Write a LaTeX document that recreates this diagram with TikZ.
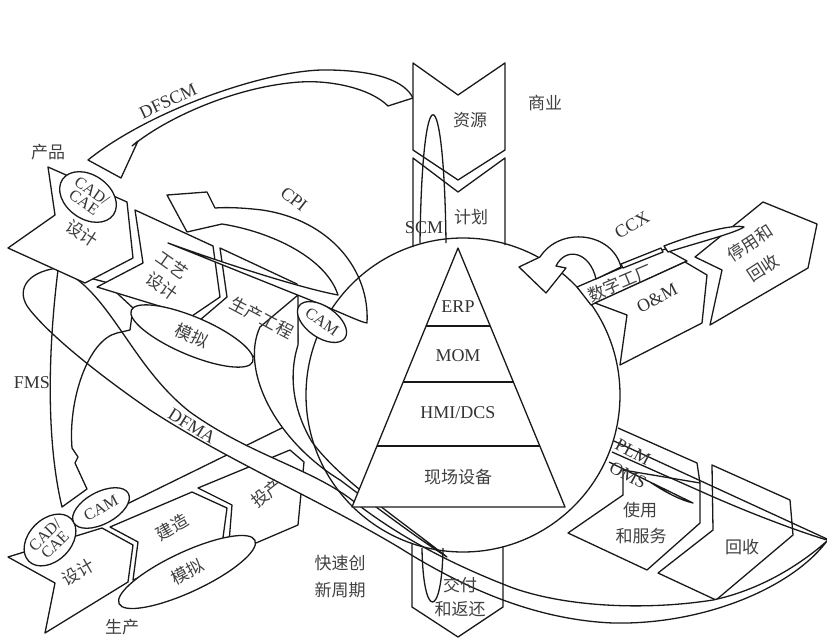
\documentclass[tikz,border=0pt]{standalone}
\usepackage{fontspec}
\setmainfont{Liberation Serif}
\newfontfamily\cjk{Noto Sans CJK SC}
\usetikzlibrary{shapes.geometric,calc}

\begin{document}
\begin{tikzpicture}[x=1pt, y=-1pt,
  outline/.style={draw=black!90, line width=1.3pt, line join=round},
  blk/.style={outline, fill=white},
  ell/.style={ellipse, draw=black!90, fill=white, line width=1.3pt, inner sep=0pt},
  lat/.style={font=\fontsize{18}{20}\selectfont, text=black!80, inner sep=0pt},
  zh/.style={font=\fontsize{17}{22}\selectfont\cjk, text=black!75, align=center, inner sep=0pt},
  elltxt/.style={font=\fontsize{16}{14}\selectfont, text=black!80, align=center, inner sep=0pt}
]
  \useasboundingbox (0,0) rectangle (827,639);

  % lower chain (production)
  \path[blk] (8,557) -- (102,528) -- (133,545) -- (128,582) -- (45,633) -- (55,583) -- cycle;
  \path[blk] (110,527) -- (192,492) -- (227,508) -- (222,545) -- (133,580) -- (138,542) -- cycle;
  \path[blk] (198,488) -- (290,450) -- (304,462) -- (298,525) -- (228,555) -- (232,505) -- cycle;
  \coordinate (stripA) at (127,504);
  \coordinate (stripB) at (290,424);
  \draw[outline] (stripA) -- (stripB);

  % lower right blocks
  \path[blk] (623,470) -- (623,495) -- (568,533) -- (647,570) -- (700,523) -- (700,483) -- cycle;
  \path[blk] (712,465) -- (790,500) -- (793,535) -- (716,600) -- (658,573) -- (713,530) -- cycle;

  % DFMA swoosh
  \path[blk] (827,541) .. controls (790,590) and (700,625) .. (613,623)
    .. controls (540,620) and (470,592) .. (400,548)
    .. controls (320,500) and (230,462) .. (150,410)
    .. controls (95,372) and (50,335) .. (30,310)
    .. controls (15,292) and (25,272) .. (58,268)
    .. controls (110,290) and (130,365) .. (190,412)
    .. controls (250,455) and (310,468) .. (352,500)
    .. controls (390,530) and (440,560) .. (513,588)
    .. controls (570,608) and (650,610) .. (713,600)
    .. controls (760,590) and (800,565) .. (827,541) -- cycle;

  % FMS swoosh
  \draw[outline] (58,270) .. controls (48,350) and (46,440) .. (62,507) -- (87,489) -- (75,463) -- (78,457) -- (72,448)
    .. controls (68,400) and (88,340) .. (117,333) -- (130,330) -- (133,308) -- (105,282) -- cycle;

  % lower ellipses
  \node[ell, rotate=45, minimum width=60pt, minimum height=42pt] (cadL) at (50,540) {};
  \node[ell, rotate=28, minimum width=62pt, minimum height=32pt] (camL) at (101,508) {};
  \node[ell, rotate=25, minimum width=150pt, minimum height=40pt] (simL) at (187,572) {};

  % upper chain (product)
  \path[blk] (48,167) -- (127,202) -- (133,258) -- (85,283) -- (8,248) -- (55,215) -- cycle;
  \path[blk] (135,210) -- (213,246) -- (220,297) -- (192,316) -- (97,287) -- (143,263) -- cycle;
  \path[blk] (220,248) -- (297,284) -- (298,343) -- (262,362) -- (200,320) -- (227,297) -- cycle;

  % crescent from CAM
  \path[blk] (298,295) -- (260,327) .. controls (240,370) and (275,440) .. (340,480)
    .. controls (380,510) and (420,540) .. (447,557)
    .. controls (400,520) and (340,480) .. (312,442)
    .. controls (290,405) and (290,370) .. (298,345) -- cycle;

  % CPI loop
  \path[blk] (168,243) -- (310,300) .. controls (340,312) and (360,322) .. (367,323)
    .. controls (370,270) and (330,220) .. (262,210) .. controls (245,208) and (228,207) .. (215,208)
    -- (207,192) -- (167,195) -- (187,232) -- (222,224)
    .. controls (272,232) and (326,258) .. (338,295)
    .. controls (300,288) and (220,262) .. (168,243) -- cycle;

  % DFSCM arrow
  \path[blk] (88,160) .. controls (150,110) and (270,68) .. (330,70) .. controls (380,71) and (405,82) .. (413,98)
    -- (388,106) .. controls (370,88) and (330,80) .. (300,82) .. controls (240,86) and (170,115) .. (132,146)
    -- (138,141) -- (121,178) -- cycle;

  % upper ellipses
  \node[ell, rotate=-35, minimum width=62pt, minimum height=44pt] (cadU) at (88,197) {};
  \node[ell, rotate=-23, minimum width=132pt, minimum height=38pt] (simU) at (192,336) {};

  % business column
  \path[blk] (413,63) -- (458,95) -- (505,63) -- (505,150) -- (458,180) -- (413,150) -- cycle;
  \draw[outline] (413,247) -- (413,158) -- (458,192) -- (505,158) -- (505,245);
  \draw[outline] (420,243) .. controls (422,72) and (444,72) .. (446,243);

  % circle, pyramid
  \coordinate (cc) at (463,395);
  \draw[outline] (cc) circle[radius=157];
  \node[ell, rotate=-35, minimum width=56pt, minimum height=31pt] (camU) at (322,322) {};
  \coordinate (apex) at (458,248);
  \coordinate (bl) at (352,507);
  \coordinate (br) at (565,507);
  \path[blk] (apex) -- (br) -- (bl) -- cycle;
  \foreach \t in {0.301,0.517,0.764}
    \draw[outline] ($(apex)!\t!(bl)$) -- ($(apex)!\t!(br)$);

  % delivery block
  \draw[outline] (412,544) -- (412,607) -- (458,637) -- (503,607) -- (503,546);
  \draw[outline] (422,548) .. controls (423,620) and (442,620) .. (443,548);

  % right upper group
  \path[blk] (577,287) -- (665,249) -- (687,261) -- (591,305) -- cycle;
  \path[blk] (595,303) -- (685,262) -- (707,275) -- (702,323) -- (620,365) -- (627,315) -- cycle;
  \path[blk] (695,257) -- (763,202) -- (817,224) -- (808,268) -- (710,325) -- (722,270) -- cycle;
  \path[blk] (621,267) .. controls (612,232) and (560,226) .. (540,257) -- (519,267) -- (546,293) -- (566,268) -- (556,266)
    .. controls (566,246) and (590,252) .. (596,279) -- cycle;
  \path[blk] (621,264) -- (661,248) -- (663,252) -- (623,268) -- cycle;
  \path[blk] (664,246) .. controls (700,232) and (735,224) .. (744,227) .. controls (735,233) and (700,242) .. (668,252) -- cycle;

  % PLM / OMS strips
  \draw[outline] (618,428) -- (697,463) -- (700,483);
  \draw[outline] (614,441) -- (827,539);
  \draw[outline] (612,452) -- (700,491) .. controls (760,518) and (810,535) .. (827,540);
  \draw[outline] (609,462) -- (693,503) .. controls (680,500) and (665,492) .. (650,482);

  % labels
  \node[zh] (lShang) at (545,103) {商业};
  \node[zh] (lChan) at (48,152) {产品};
  \node[zh] (lZiyuan) at (470,120) {资源};
  \node[zh] (lJihua) at (471,217) {计划};
  \node[lat] (lSCM) at (424,228) {SCM};
  \node[lat, rotate=25] (lDFSCM) at (168,101) {DFSCM};
  \node[lat, rotate=-38] (lCPI) at (294,199) {CPI};
  \node[lat, rotate=32] (lCCX) at (632,225) {CCX};
  \node[zh, rotate=23] (lSzgc) at (620,283) {数字工厂};
  \node[lat, rotate=27] (lOM) at (657,298) {O\&M};
  \node[zh, rotate=33] (lTing) at (750,243) {停用和};
  \node[zh, rotate=33] (lHui1) at (763,268) {回收};
  \node[lat] (lERP) at (458,307) {ERP};
  \node[lat] (lMOM) at (458,356) {MOM};
  \node[lat] (lHMI) at (458,413) {HMI/DCS};
  \node[zh] (lXc) at (458,477) {现场设备};
  \node[lat, rotate=-28] (lPLM) at (633,452) {PLM};
  \node[lat, rotate=-28] (lOMS) at (628,475) {OMS};
  \node[zh] (lShi) at (640,510) {使用};
  \node[zh] (lFw) at (641,536) {和服务};
  \node[zh] (lHui2) at (742,547) {回收};
  \node[zh] (lJf) at (460,585) {交付};
  \node[zh] (lFh) at (460,609) {和返还};
  \node[zh] (lKs) at (340,563) {快速创};
  \node[zh] (lXz) at (340,590) {新周期};
  \node[zh] (lSc) at (122,627) {生产};
  \node[lat] (lFMS) at (32,383) {FMS};
  \node[lat, rotate=-32] (lDFMA) at (192,426) {DFMA};
  \node[zh, rotate=38] (lTc) at (267,493) {投产};
  \node[zh, rotate=30] (lJz) at (172,527) {建造};
  \node[zh, rotate=28] at (simL) {模拟};
  \node[zh, rotate=30] (lSjL) at (78,572) {设计};
  \node[elltxt, rotate=45] at (cadL) {CAD/\\CAE};
  \node[elltxt, rotate=28] at (camL) {CAM};
  \node[zh, rotate=-33] (lSjU) at (82,233) {设计};
  \node[zh, rotate=-35] (lGy) at (172,265) {工艺};
  \node[zh, rotate=-35] (lGs) at (162,286) {设计};
  \node[zh, rotate=-25] at (simU) {模拟};
  \node[zh, rotate=-28] (lScgc) at (262,318) {生产工程};
  \node[elltxt, rotate=-35] at (camU) {CAM};
  \node[elltxt, rotate=-35] at (cadU) {CAD/\\CAE};
\end{tikzpicture}
\end{document}
